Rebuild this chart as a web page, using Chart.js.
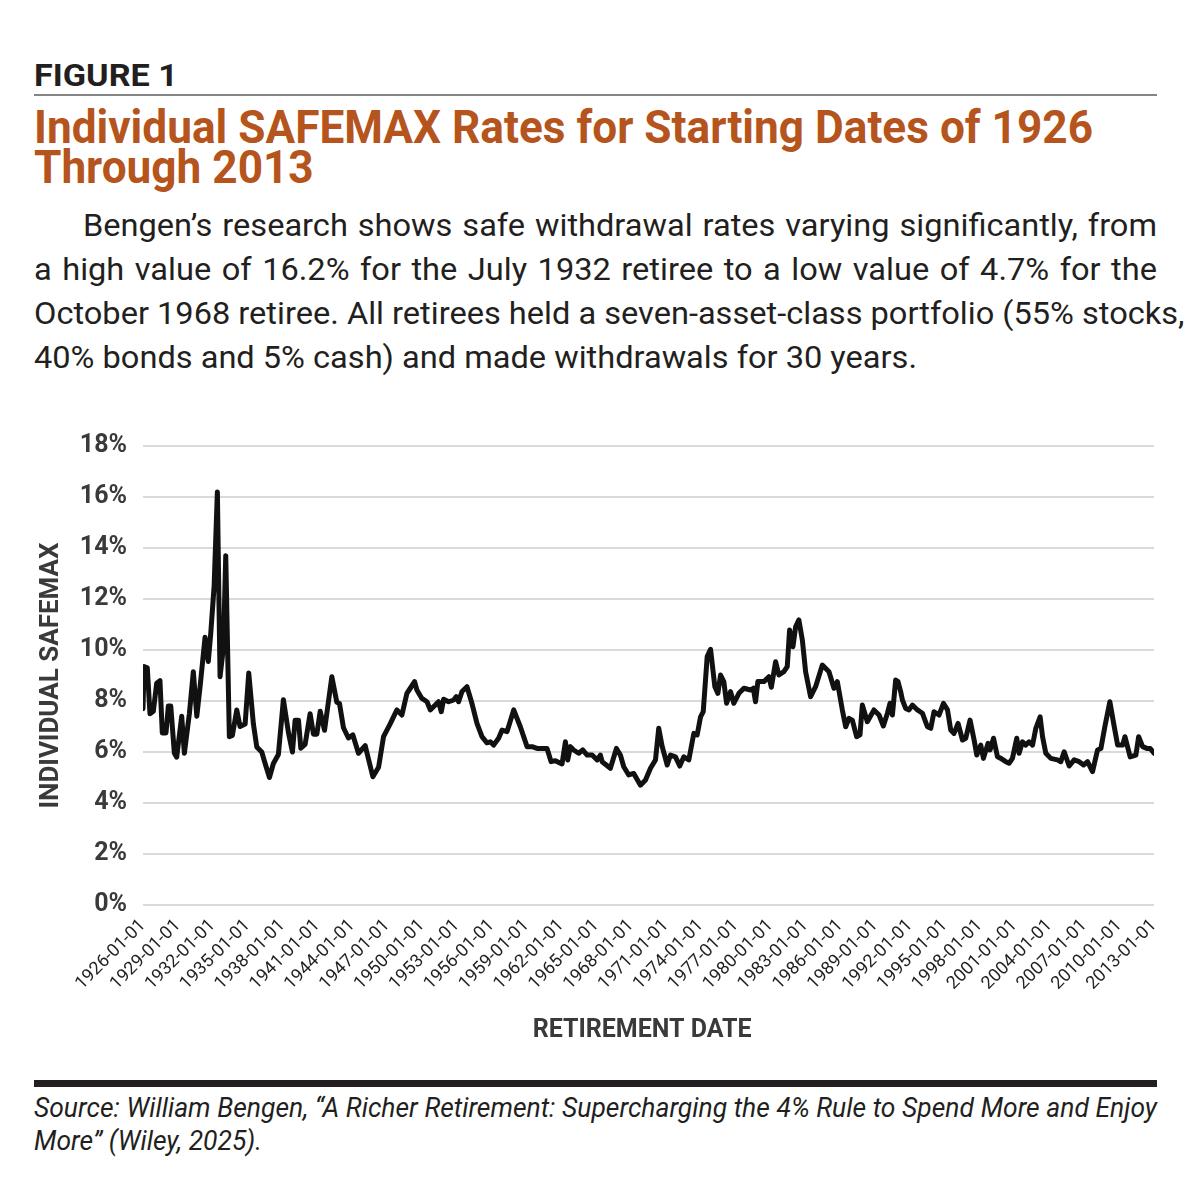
<!DOCTYPE html>
<html><head><meta charset="utf-8">
<script src="https://cdn.jsdelivr.net/npm/chart.js@4.4.1/dist/chart.umd.min.js"></script>
<style>
html,body{margin:0;padding:0;background:#fff;}
body{width:1200px;height:1200px;position:relative;overflow:hidden;font-family:Roboto,"Noto Sans",sans-serif;color:#231f20;}
.ln{position:absolute;white-space:nowrap;transform-origin:0 0;line-height:1;}
.fig{font-weight:700;font-size:32px;color:#231f20;left:34px;top:59px;}
.ttl{font-weight:700;font-size:46px;color:#b5541c;left:34px;}
.body{font-size:31px;color:#231f20;}
.src{font-size:28px;font-style:italic;color:#231f20;left:34px;}
.rule{position:absolute;left:34px;width:1123px;}
#wrap{position:absolute;left:0;top:400px;width:1200px;height:660px;}
</style></head>
<body>
<div class="ln fig" data-g="fig" data-ref="1" data-w="144">FIGURE 1</div>
<div class="rule" style="top:94px;height:2px;background:#858585;"></div>
<div class="ln ttl" style="top:104px" data-g="ttl" data-ref="1" data-w="1059">Individual SAFEMAX Rates for Starting Dates of 1926</div>
<div class="ln ttl" style="top:144px" data-g="ttl">Through 2013</div>
<div class="ln body" style="left:83px;top:210px" data-g="body" data-j="1" data-w="1074">Bengen’s research shows safe withdrawal rates varying significantly, from</div>
<div class="ln body" style="left:34px;top:254px" data-g="body" data-j="1" data-w="1123">a high value of 16.2% for the July 1932 retiree to a low value of 4.7% for the</div>
<div class="ln body" style="left:34px;top:298px" data-g="body" data-j="1" data-w="1123">October 1968 retiree. All retirees held a seven-asset-class portfolio (55% stocks,</div>
<div class="ln body" style="left:34px;top:342px" data-g="body" data-ref="1" data-w="883">40% bonds and 5% cash) and made withdrawals for 30 years.</div>
<div id="wrap"><canvas id="c" width="1200" height="660"></canvas></div>
<div class="rule" style="top:1080px;height:7px;background:#231f20;"></div>
<div class="ln src" style="top:1094px" data-g="src" data-j="1" data-w="1123">Source: William Bengen, “A Richer Retirement: Supercharging the 4% Rule to Spend More and Enjoy</div>
<div class="ln src" style="top:1127px" data-g="src" data-ref="1" data-w="228">More” (Wiley, 2025).</div>
<script>
// Retirement start dates (decimal years) and SAFEMAX rates (%)
const retireDates = [
  1926.00,1926.09,1926.37,1926.60,1926.89,1927.18,1927.46,1927.66,1927.98,1928.18,1928.39,1928.70,1928.90,1929.33,1929.56,1929.99,
  1930.33,1930.63,1930.91,1931.34,1931.62,1931.83,1932.12,1932.40,1932.63,1932.92,1933.12,1933.43,1933.69,1934.07,1934.35,1934.79,1935.10,1935.50,1935.79,1936.22,1936.51,1936.88,1937.22,1937.65,1938.08,1938.52,1938.86,1939.09,1939.38,1939.58,1939.95,
  1940.38,1940.67,1940.96,1941.25,1941.62,1942.25,1942.68,1942.91,1943.25,1943.68,1944.06,1944.54,1945.12,1945.78,1946.27,1946.70,1947.27,1947.85,1948.28,1948.71,1949.00,1949.37,1949.57,
  1950.00,1950.44,1950.72,1951.15,1951.43,1951.67,1951.87,1952.30,1952.73,1952.96,1953.16,1953.45,1953.88,1954.31,1954.74,1955.17,1955.60,1955.89,1956.17,1956.60,1956.90,1957.33,1957.90,1958.47,1959.05,1959.48,1959.91,
  1960.77,1961.12,1961.49,1962.06,1962.35,1962.55,1962.78,1963.06,1963.49,1963.84,1964.22,1964.65,1965.08,1965.36,1965.51,1966.22,1966.74,1967.08,1967.37,1967.80,1968.23,1968.81,1969.24,1969.67,
  1970.10,1970.38,1970.68,1971.11,1971.39,1971.82,1972.19,1972.54,1972.97,1973.40,1973.69,1973.98,1974.21,1974.55,1974.84,1975.21,1975.47,1975.70,1975.98,1976.22,1976.56,1976.84,1977.28,1977.71,1978.28,1978.52,1978.71,1978.91,1979.43,1979.86,
  1980.07,1980.44,1980.72,1981.15,1981.44,1981.64,1981.93,1982.16,1982.44,1982.74,1983.02,1983.45,1983.88,1984.46,1985.03,1985.46,1985.75,1986.18,1986.47,1986.75,1987.04,1987.41,1987.70,1987.90,1988.33,1988.90,1989.34,1989.71,
  1990.06,1990.28,1990.49,1990.77,1990.97,1991.20,1991.35,1991.63,1991.92,1992.21,1992.64,1993.07,1993.50,1993.79,1994.07,1994.50,1994.88,1995.23,1995.51,1995.79,1996.14,1996.52,1996.80,1997.17,1997.52,1997.75,1998.09,1998.32,1998.72,1998.89,1999.19,1999.53,1999.82,
  2000.25,2000.53,2000.82,2001.19,2001.39,2001.68,2001.97,2002.25,2002.55,2002.83,2003.20,2003.41,2003.69,2004.12,2004.70,2004.98,2005.27,2005.70,2006.13,2006.56,2006.94,2007.28,2007.71,2008.14,2008.43,2008.77,2009.20,2009.58,2009.87,2010.30,2010.50,2010.95,2011.44,2011.68,2012.02,2012.39,2012.68,2013.00
];
const safemaxRates = [
  7.7,9.35,9.3,7.5,7.6,8.7,8.8,6.75,6.75,7.8,7.8,5.95,5.8,7.4,5.95,7.5,
  9.15,7.4,8.55,10.5,9.55,10.65,12.5,16.2,8.95,10.1,13.7,6.6,6.65,7.65,7.0,7.1,9.1,7.1,6.2,6.0,5.55,5.0,5.55,5.9,8.05,6.75,6.0,7.25,7.25,6.15,6.3,
  7.5,6.7,6.7,7.6,6.85,8.95,7.95,7.9,6.95,6.55,6.67,5.95,6.25,5.03,5.4,6.6,7.1,7.65,7.45,8.3,8.5,8.76,8.43,
  8.1,7.97,7.65,7.84,7.97,7.58,8.07,7.97,8.04,8.17,7.97,8.37,8.56,7.9,7.12,6.6,6.36,6.4,6.27,6.54,6.86,6.8,7.65,6.99,6.21,6.21,6.14,
  6.14,5.62,5.66,5.53,6.4,5.69,6.21,6.08,5.95,6.08,5.88,5.88,5.69,5.88,5.62,5.36,6.14,5.88,5.42,5.1,5.16,4.7,4.9,5.36,
  5.69,6.93,6.21,5.49,5.88,5.81,5.45,5.81,5.69,6.73,6.67,7.38,7.58,9.74,10.03,8.56,8.3,9.02,8.76,7.91,8.37,7.91,8.3,8.5,8.43,8.5,7.97,8.76,8.76,8.95,
  8.54,9.54,9.02,9.15,9.35,10.78,10.13,10.91,11.18,10.39,9.15,8.17,8.56,9.41,9.15,8.5,8.76,7.65,6.99,7.32,7.25,6.6,6.67,7.84,7.19,7.65,7.45,7.02,
  7.52,7.91,7.45,8.82,8.76,8.37,8.04,7.71,7.65,7.84,7.65,7.52,6.99,6.93,7.58,7.45,7.91,7.65,6.86,6.73,7.12,6.47,6.54,7.25,6.47,5.88,6.27,5.75,6.34,6.08,6.54,5.81,5.75,
  5.62,5.56,5.75,6.54,5.95,6.4,6.27,6.4,6.27,6.93,7.38,6.6,5.95,5.75,5.69,5.62,6.01,5.45,5.69,5.62,5.49,5.62,5.23,6.08,6.14,6.99,7.97,6.99,6.27,6.27,6.6,5.81,5.88,6.6,6.21,6.14,6.14,5.95
];
const tickYears = [1926,1929,1932,1935,1938,1941,1944,1947,1950,1953,1956,1959,1962,1965,1968,1971,1974,1977,1980,1983,1986,1989,1992,1995,1998,2001,2004,2007,2010,2013];
const tickLabels = ["1926-01-01","1929-01-01","1932-01-01","1935-01-01","1938-01-01","1941-01-01","1944-01-01","1947-01-01","1950-01-01","1953-01-01","1956-01-01","1959-01-01","1962-01-01","1965-01-01","1968-01-01","1971-01-01","1974-01-01","1977-01-01","1980-01-01","1983-01-01","1986-01-01","1989-01-01","1992-01-01","1995-01-01","1998-01-01","2001-01-01","2004-01-01","2007-01-01","2010-01-01","2013-01-01"];
const yTickValues = [0,2,4,6,8,10,12,14,16,18];

function fitText(){
  const els = Array.from(document.querySelectorAll('.ln'));
  const groups = {};
  els.forEach(e=>{ e.style.transform='none'; e.style.wordSpacing='0px'; (groups[e.dataset.g]=groups[e.dataset.g]||[]).push(e); });
  Object.values(groups).forEach(list=>{
    const ref = list.find(e=>e.dataset.ref) || list[0];
    const k = parseFloat(ref.dataset.w) / ref.getBoundingClientRect().width;
    list.forEach(e=>{
      if (e.dataset.j) {
        const nat = e.getBoundingClientRect().width * k;
        const spaces = (e.textContent.match(/ /g)||[]).length;
        const extra = parseFloat(e.dataset.w) - nat;
        if (spaces>0 && extra>0) e.style.wordSpacing = (extra/k/spaces)+'px';
      }
      e.style.transform = 'scaleX('+k+')';
    });
  });
}
fitText();
if (document.fonts && document.fonts.ready) document.fonts.ready.then(fitText);

const axisFont = {family:'Roboto', weight:'bold', size:25};
new Chart(document.getElementById('c'), {
  type:'line',
  data:{ datasets:[{
    data: retireDates.map((d,i)=>({x:d, y:safemaxRates[i]})),
    borderColor:'#111111', borderWidth:5, pointRadius:0, tension:0,
    borderJoinStyle:'round', borderCapStyle:'round', fill:false
  }]},
  options:{
    responsive:false, animation:false, devicePixelRatio:1,
    layout:{padding:{left:30, right:46, top:46, bottom:10}},
    plugins:{legend:{display:false}, tooltip:{enabled:false}},
    scales:{
      x:{ type:'linear', min:tickYears[0], max:tickYears[tickYears.length-1],
        afterBuildTicks:s=>{ s.ticks = tickYears.map(v=>({value:v})); },
        afterFit:s=>{ s.height = 145; },
        grid:{display:false, drawTicks:false}, border:{display:false},
        ticks:{autoSkip:false, maxRotation:45, minRotation:45, padding:10, color:'#231f20',
          font:{family:'Roboto', size:18}, callback:(v,i)=>tickLabels[i]},
        title:{display:true, text:'RETIREMENT DATE\u2002', color:'#3a3a3a', font:axisFont, padding:{top:0,bottom:4}}
      },
      y:{ min:yTickValues[0], max:yTickValues[yTickValues.length-1],
        afterBuildTicks:s=>{ s.ticks = yTickValues.map(v=>({value:v})); },
        afterFit:s=>{ s.width = 113; },
        grid:{color:'#d9d9d9', lineWidth:2, drawTicks:false}, border:{display:false},
        ticks:{padding:16, color:'#3a3a3a', font:{family:'Roboto', weight:'bold', size:25}, callback:v=>v+'%'},
        title:{display:true, text:'INDIVIDUAL SAFEMAX', color:'#3a3a3a', font:{family:'Roboto', weight:'bold', size:26}, padding:{top:6,bottom:0}}
      }
    }
  }
});
</script>
</body></html>
